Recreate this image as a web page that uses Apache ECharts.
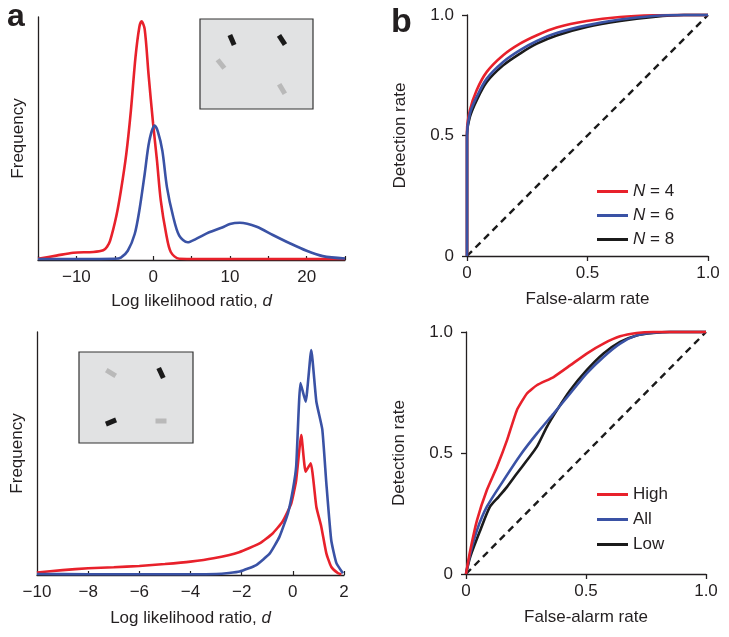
<!DOCTYPE html>
<html>
<head>
<meta charset="utf-8">
<script src="https://cdn.jsdelivr.net/npm/echarts@6/dist/echarts.min.js"></script>
<style>
  html, body { margin: 0; padding: 0; background: #fff; }
  #main { width: 729px; height: 637px; }
</style>
</head>
<body>
<div id="main"></div>
<script>
"use strict";

// panel a, top: distributions of log likelihood ratio
var topRedX = [-15, -12.6, -10.4, -7.8, -6.5, -6, -5.6, -4.8, -4.2, -3.5, -2.9, -2.3, -1.8, -1.5, -1.1, -0.6, 0, 0.5, 1.0, 1.7, 2.3, 3.4, 6, 10, 15, 20, 25];
var topRedY = [0.005, 0.018, 0.03, 0.033, 0.04, 0.055, 0.08, 0.18, 0.285, 0.436, 0.614, 0.834, 0.958, 0.982, 0.95, 0.765, 0.56, 0.41, 0.244, 0.107, 0.033, 0.005, 0.004, 0.004, 0.004, 0.004, 0.004];
var topBlueX = [-15, -10, -5, -4.2, -3.3, -2.4, -1.8, -1.1, -0.5, 0.2, 0.6, 1.2, 1.8, 2.6, 3.4, 4.5, 5.6, 7.3, 9.0, 10.0, 11.3, 13.5, 15.6, 17.8, 20, 22.1, 25];
var topBlueY = [0.004, 0.004, 0.005, 0.01, 0.038, 0.107, 0.203, 0.354, 0.49, 0.553, 0.53, 0.45, 0.3, 0.18, 0.1, 0.073, 0.087, 0.114, 0.134, 0.148, 0.153, 0.137, 0.103, 0.069, 0.038, 0.016, 0.006];

// panel a, bottom
var botRedX = [-10, -9, -8, -7, -6, -5, -4, -3.1, -2.1, -1.3, -0.8, -0.4, -0.06, 0.13, 0.33, 0.5, 0.7, 0.92, 1.11, 1.31, 1.5, 1.77, 1.9];
var botRedY = [0.01, 0.02, 0.028, 0.032, 0.037, 0.045, 0.055, 0.069, 0.094, 0.13, 0.17, 0.22, 0.295, 0.39, 0.576, 0.425, 0.46, 0.28, 0.2, 0.089, 0.034, 0.007, 0.003];
var botBlueX = [-10, -8, -6, -4, -3, -2.5, -2.08, -1.43, -0.9, -0.52, -0.19, 0, 0.13, 0.3, 0.5, 0.72, 0.92, 1.15, 1.31, 1.5, 1.7, 1.96];
var botBlueY = [0.004, 0.003, 0.003, 0.003, 0.004, 0.008, 0.014, 0.041, 0.089, 0.158, 0.255, 0.35, 0.446, 0.79, 0.713, 0.926, 0.713, 0.6, 0.377, 0.144, 0.05, 0.007];

// panel b, top: ROC by set size
var rocN4X = [0, 0, 0.012, 0.04, 0.082, 0.15, 0.22, 0.29, 0.372, 0.497, 0.635, 0.773, 0.9, 1];
var rocN4Y = [0, 0.52, 0.605, 0.688, 0.764, 0.833, 0.881, 0.916, 0.948, 0.975, 0.992, 0.999, 1, 1];
var rocN6X = [0, 0, 0.012, 0.04, 0.082, 0.15, 0.22, 0.29, 0.372, 0.497, 0.635, 0.773, 0.9, 1];
var rocN6Y = [0, 0.5, 0.591, 0.66, 0.736, 0.805, 0.854, 0.892, 0.925, 0.957, 0.981, 0.996, 1, 1];
var rocN8X = [0, 0, 0.012, 0.04, 0.082, 0.15, 0.22, 0.29, 0.372, 0.497, 0.635, 0.773, 0.9, 1];
var rocN8Y = [0, 0.5, 0.577, 0.646, 0.722, 0.791, 0.84, 0.881, 0.915, 0.95, 0.975, 0.992, 1, 1];

// panel b, bottom: ROC by reliability
var rocHighX = [0, 0.018, 0.046, 0.087, 0.129, 0.171, 0.212, 0.254, 0.295, 0.365, 0.434, 0.503, 0.573, 0.642, 0.711, 0.78, 1];
var rocHighY = [0, 0.099, 0.223, 0.347, 0.443, 0.553, 0.677, 0.746, 0.78, 0.814, 0.862, 0.911, 0.952, 0.982, 0.996, 1, 1];
var rocAllX = [0, 0.018, 0.046, 0.087, 0.157, 0.226, 0.295, 0.365, 0.434, 0.503, 0.573, 0.642, 0.711, 0.78, 0.85, 1];
var rocAllY = [0, 0.085, 0.182, 0.278, 0.388, 0.491, 0.58, 0.663, 0.746, 0.829, 0.897, 0.952, 0.986, 0.997, 1, 1];
var rocLowX = [0, 0.018, 0.06, 0.1, 0.136, 0.171, 0.212, 0.254, 0.295, 0.337, 0.379, 0.434, 0.503, 0.573, 0.642, 0.711, 0.78, 0.85, 1];
var rocLowY = [0, 0.072, 0.182, 0.278, 0.319, 0.36, 0.415, 0.47, 0.525, 0.608, 0.677, 0.759, 0.842, 0.911, 0.959, 0.986, 0.996, 1, 1];

var chanceLine = [[0, 0], [1, 1]];
var legendTop = ['N = 4', 'N = 6', 'N = 8'];
var legendBottom = ['High', 'All', 'Low'];

var RED = '#e8212b', BLUE = '#3a52a5', BLACK = '#1b1b1b';
var FONT = 'Liberation Sans, Arial, sans-serif';
var INK = '#231f20';
var FS = 17;
var LINE_ICON = 'path://M0,0H31V3H0Z';

function pairs(xs, ys) {
  return xs.map(function (x, i) { return [x, ys[i]]; });
}

function minus(v) {
  return v < 0 ? '\u2212' + Math.abs(v) : String(v);
}

function rocLabel(v) {
  return v === 0 ? '0' : v.toFixed(1);
}

var axisLineStyle = { color: INK, width: 1.3 };
var labelStyle = { color: INK, fontSize: FS, fontFamily: FONT };
var nameStyle = { color: INK, fontSize: FS, fontFamily: FONT, rich: { i: { fontStyle: 'italic', fontSize: FS, fontFamily: FONT, color: INK } } };

function freqY(idx) {
  return {
    type: 'value', gridIndex: idx, min: 0, max: 1,
    name: 'Frequency', nameLocation: 'middle', nameGap: 11, nameTextStyle: nameStyle,
    axisLine: { show: true, onZero: false, lineStyle: axisLineStyle },
    axisTick: { show: false }, axisLabel: { show: false }, splitLine: { show: false }
  };
}

function rocX(idx) {
  return {
    type: 'value', gridIndex: idx, min: 0, max: 1, interval: 0.5,
    name: 'False-alarm rate', nameLocation: 'middle', nameGap: 35, nameTextStyle: nameStyle,
    axisLine: { onZero: false, lineStyle: axisLineStyle },
    axisTick: { show: true, length: 5, lineStyle: { color: INK, width: 1.3 } },
    axisLabel: Object.assign({ margin: 9, formatter: rocLabel }, labelStyle),
    splitLine: { show: false }
  };
}

function rocY(idx) {
  return {
    type: 'value', gridIndex: idx, min: 0, max: 1, interval: 0.5,
    name: 'Detection rate', nameLocation: 'middle', nameGap: 58, nameTextStyle: nameStyle,
    axisLine: { show: true, onZero: false, lineStyle: axisLineStyle },
    axisTick: { show: true, length: 5, lineStyle: { color: INK, width: 1.3 } },
    axisLabel: Object.assign({ margin: 13, formatter: rocLabel }, labelStyle),
    splitLine: { show: false }
  };
}

function curve(name, idx, data, color, smooth) {
  return {
    name: name, type: 'line', xAxisIndex: idx, yAxisIndex: idx,
    data: data, symbol: 'none', showSymbol: false, smooth: smooth, clip: false,
    lineStyle: { color: color, width: 2.6 }, itemStyle: { color: color },
    z: 3
  };
}

function chance(idx) {
  return {
    name: 'chance' + idx, type: 'line', xAxisIndex: idx, yAxisIndex: idx,
    data: chanceLine, symbol: 'none', clip: false,
    lineStyle: { color: BLACK, width: 2.4, type: [7, 5] }, z: 2
  };
}

function bar(cx, cy, deg, dark) {
  return {
    type: 'rect', x: cx, y: cy, rotation: deg * Math.PI / 180,
    shape: { x: -2.5, y: -5.5, width: 5, height: 11 },
    style: { fill: dark ? '#1a1a1a' : '#b9b9b9' }, z: 20
  };
}

var insetBox = { fill: '#e1e2e3', stroke: '#333', lineWidth: 1.2 };

var chart = echarts.init(document.getElementById('main'), null, { renderer: 'canvas' });

chart.setOption({
  animation: false,
  textStyle: { fontFamily: FONT },
  grid: [
    { left: 38, top: 17, width: 307, height: 243 },
    { left: 37, top: 332, width: 307, height: 243 },
    { left: 467, top: 15, width: 241, height: 241 },
    { left: 466, top: 332, width: 240, height: 242 }
  ],
  xAxis: [
    {
      type: 'value', gridIndex: 0, min: -15, max: 25, interval: 5,
      name: 'Log likelihood ratio, {i|d}', nameLocation: 'middle', nameGap: 33, nameTextStyle: nameStyle,
      axisLine: { onZero: false, lineStyle: axisLineStyle },
      axisTick: { show: true, inside: true, length: 4, lineStyle: { color: INK, width: 1.2 } },
      axisLabel: Object.assign({ margin: 9, formatter: function (v) { return v % 10 === 0 ? minus(v) : ''; } }, labelStyle),
      splitLine: { show: false }
    },
    {
      type: 'value', gridIndex: 1, min: -10, max: 2, interval: 2,
      name: 'Log likelihood ratio, {i|d}', nameLocation: 'middle', nameGap: 35, nameTextStyle: nameStyle,
      axisLine: { onZero: false, lineStyle: axisLineStyle },
      axisTick: { show: true, inside: true, length: 4, lineStyle: { color: INK, width: 1.2 } },
      axisLabel: Object.assign({ margin: 9, formatter: minus }, labelStyle),
      splitLine: { show: false }
    },
    rocX(2),
    rocX(3)
  ],
  yAxis: [freqY(0), freqY(1), rocY(2), rocY(3)],
  legend: [
    {
      data: legendTop, left: 592, top: 178, orient: 'vertical', icon: LINE_ICON,
      itemWidth: 31, itemHeight: 14, itemGap: 7, itemStyle: { borderWidth: 0 },
      formatter: function (name) { return '{i|N}' + name.slice(1); },
      textStyle: { color: INK, fontSize: FS, fontFamily: FONT, rich: { i: { fontStyle: 'italic', fontSize: FS, fontFamily: FONT, color: INK } } }
    },
    {
      data: legendBottom, left: 592, top: 481, orient: 'vertical', icon: LINE_ICON,
      itemWidth: 31, itemHeight: 14, itemGap: 8, itemStyle: { borderWidth: 0 },
      textStyle: { color: INK, fontSize: FS, fontFamily: FONT }
    }
  ],
  series: [
    curve('top red', 0, pairs(topRedX, topRedY), RED, 0.3),
    curve('top blue', 0, pairs(topBlueX, topBlueY), BLUE, 0.3),
    curve('bottom red', 1, pairs(botRedX, botRedY), RED, 0.15),
    curve('bottom blue', 1, pairs(botBlueX, botBlueY), BLUE, 0.15),
    chance(2),
    curve('N = 8', 2, pairs(rocN8X, rocN8Y), BLACK, 0.3),
    curve('N = 4', 2, pairs(rocN4X, rocN4Y), RED, 0.3),
    curve('N = 6', 2, pairs(rocN6X, rocN6Y), BLUE, 0.3),
    chance(3),
    curve('Low', 3, pairs(rocLowX, rocLowY), BLACK, 0.25),
    curve('All', 3, pairs(rocAllX, rocAllY), BLUE, 0.25),
    curve('High', 3, pairs(rocHighX, rocHighY), RED, 0.15)
  ],
  graphic: [
    { type: 'text', left: 7, top: 1, style: { text: 'a', font: 'bold 32px ' + FONT, fill: INK } },
    { type: 'text', left: 391, top: 6, style: { text: 'b', font: 'bold 34px ' + FONT, fill: INK } },
    { type: 'rect', shape: { x: 200, y: 19, width: 113, height: 90 }, style: insetBox, z: 10 },
    bar(232, 40, 23, true),
    bar(282, 40, 33, true),
    bar(221, 64, 38, false),
    bar(282, 89, 31, false),
    { type: 'rect', shape: { x: 79, y: 352, width: 114, height: 91 }, style: insetBox, z: 10 },
    bar(111, 373, 59, false),
    bar(161, 373, 25, true),
    bar(111, 422, -68, true),
    bar(161, 421, 90, false)
  ]
});
</script>
</body>
</html>
